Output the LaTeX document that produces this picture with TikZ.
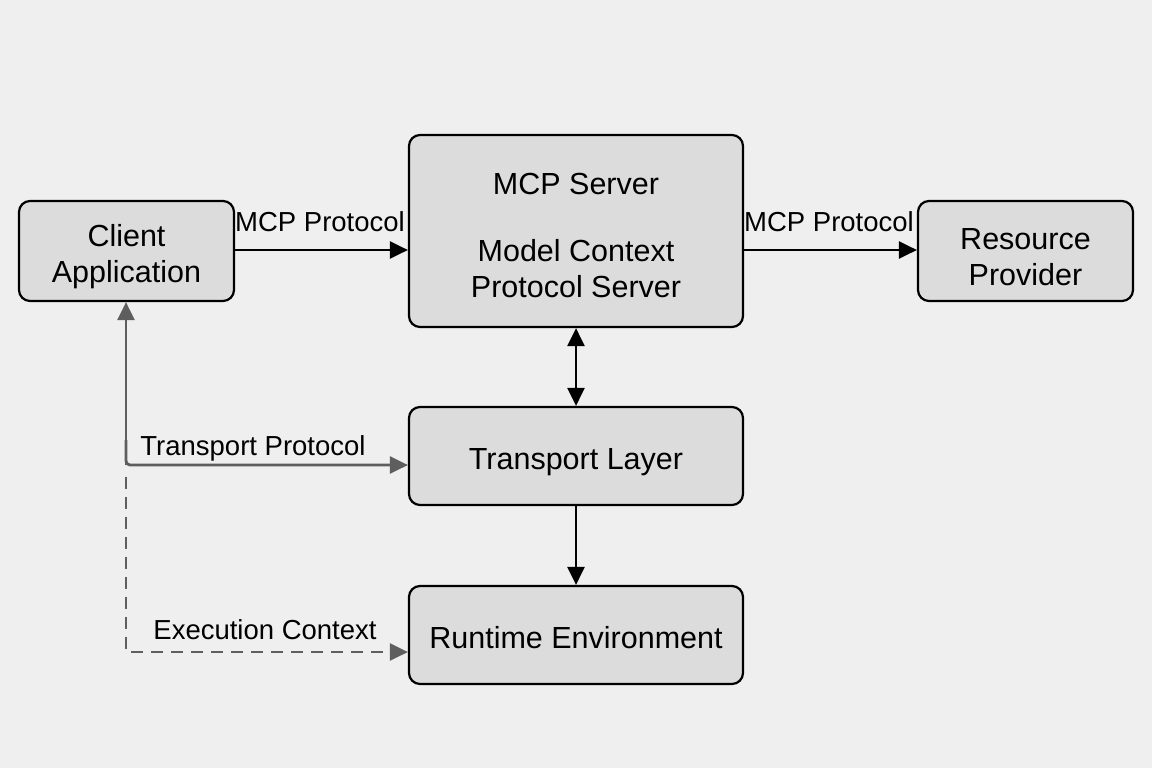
\documentclass[tikz,border=0pt]{standalone}
\usepackage{fontspec}
\setmainfont{Liberation Sans}
\usetikzlibrary{arrows.meta,calc}
\definecolor{bgc}{HTML}{EFEFEF}
\definecolor{boxc}{HTML}{DCDCDC}
\definecolor{grayln}{HTML}{5E5E5E}
\newcommand{\lowr}{\rule{0pt}{33pt}}
\tikzset{
  box/.style={draw=black, line width=2.2pt, fill=boxc, rounded corners=11pt, align=center,
    font=\fontsize{30.5}{36}\selectfont, inner sep=0pt},
  lbl/.style={font=\fontsize{27.5}{32}\selectfont, inner sep=0pt},
  arr/.style={line width=2.8pt, -{Triangle[length=18pt,width=17pt]}},
  darr/.style={line width=2.8pt, {Triangle[length=18pt,width=17pt]}-{Triangle[length=18pt,width=17pt]}},
  garr/.style={draw=grayln, line width=2.8pt, -{Triangle[length=18pt,width=17pt,fill=grayln]}},
}
\begin{document}
\begin{tikzpicture}[x=1pt,y=-1pt]
\path[fill=bgc] (0,0) rectangle (1152,768);
\node[box, minimum width=215pt, minimum height=100pt] (client) at (126.5,251) {\lowr Client\\Application};
\node[box, minimum width=334pt, minimum height=192pt] (server) at (576,231) {\rule{0pt}{30pt}MCP Server\\[31pt]Model Context\\Protocol Server};
\node[box, minimum width=215pt, minimum height=100pt] (res) at (1025.5,251) {\lowr Resource\\Provider};
\node[box, minimum width=334pt, minimum height=98pt] (trans) at (576,456) {\lowr Transport Layer};
\node[box, minimum width=334pt, minimum height=98pt] (run) at (576,635) {\rule{0pt}{28pt}Runtime Environment};

\draw[arr] (client.east |- 0,250) -- (server.west |- 0,250);
\draw[arr] (server.east |- 0,250) -- (res.west |- 0,250);
\draw[darr] (server.south) -- (trans.north);
\draw[arr] (trans.south) -- (run.north);

\coordinate (j) at (126,465);
\coordinate (k) at (126,652);
\draw[garr] (j) -- (client.south -| j);
\draw[garr, rounded corners=4pt] (j |- 0,440) -- (j) -- (j -| trans.west);
\draw[garr, dash pattern=on 12pt off 8pt] ($(j)+(0,12)$) -- (k) -- (k -| run.west);

\node[lbl] (l1) at (320,222) {MCP Protocol};
\node[lbl] (l2) at (829,222) {MCP Protocol};
\node[lbl] (l3) at (253,448) {Transport Protocol};
\node[lbl] (l4) at (265,630) {Execution Context};
\end{tikzpicture}
\end{document}
